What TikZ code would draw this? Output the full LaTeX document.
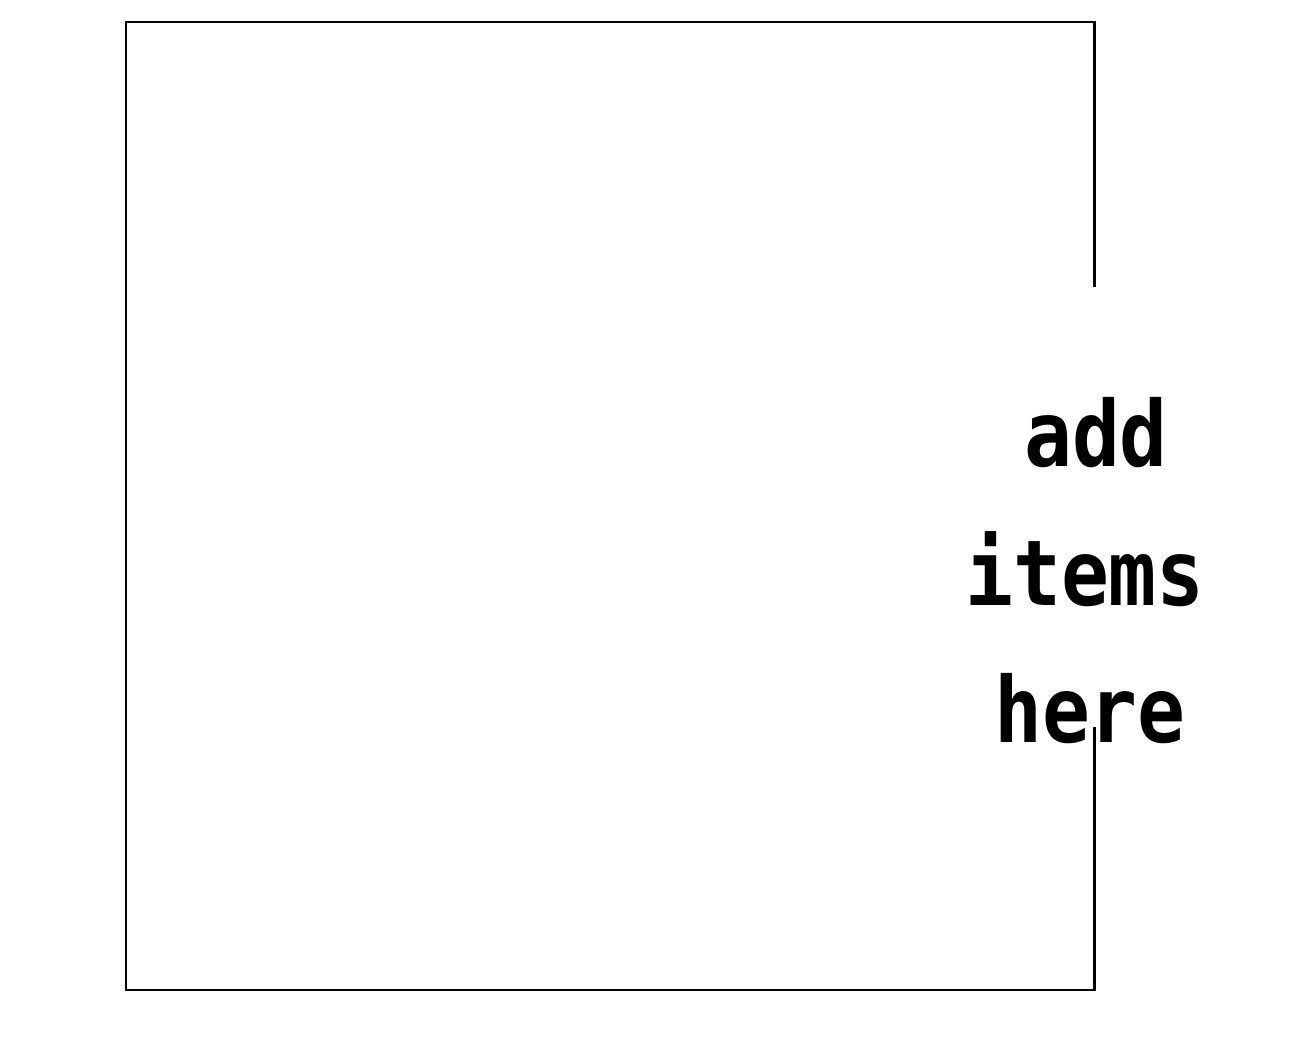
\documentclass[tikz,border=0pt]{standalone}
\usepackage{fontspec}
\newfontfamily\pixfont[FakeStretch=0.875]{DejaVu Sans Mono Bold}
\begin{document}
\begin{tikzpicture}[x=0.02cm,y=-0.02cm,
  frame/.style={draw=black,line width=1.7pt,line join=miter},
  label/.style={font=\pixfont\fontsize{51.8pt}{60pt}\selectfont,inner sep=0pt,anchor=base}]
\useasboundingbox (0,0) rectangle (1296,1047);
\coordinate (gapTop) at (1094,287);
\coordinate (tr) at (1094,22);
\coordinate (tl) at (126,22);
\coordinate (bl) at (126,990);
\coordinate (br) at (1094,990);
\coordinate (gapBot) at (1094,727);
\draw[frame] (gapTop) -- (tr) -- (tl) -- (bl) -- (br) -- (gapBot);
\node[label] (l1) at (1096,467) {add};
\node[label] (l2) at (1085,606) {items};
\node[label] (l3) at (1090,743) {here};
\end{tikzpicture}
\end{document}
